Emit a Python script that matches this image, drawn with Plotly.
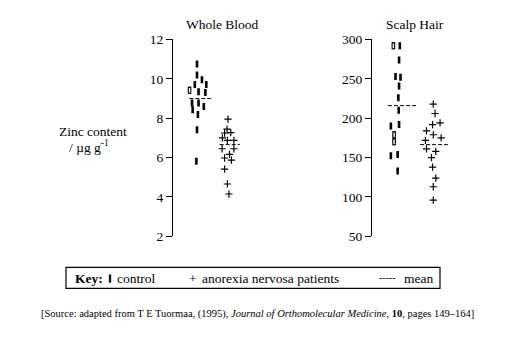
import plotly.graph_objects as go

W, H = 527, 338
FONT = "Liberation Serif"

# Zinc content, whole blood (ug/g)
blood_control = [10.75, 10.19, 9.95, 9.71, 9.71, 9.42, 9.34, 9.31, 8.78, 8.78, 8.59, 8.43, 8.19, 7.42, 5.81]
blood_control_dx = [0, 0, 0.16, -0.07, 0.30, -0.24, 0.05, 0.27, -0.16, 0.05, 0.22, -0.14, 0.03, 0, -0.02]
blood_control_open = [5]
blood_anorexia = [7.95, 7.45, 7.25, 7.27, 7.0, 6.88, 6.88, 6.45, 6.45, 6.16, 5.98, 5.87, 5.41, 4.66, 4.15]
blood_anorexia_dx = [0, -0.03, -0.11, 0.09, -0.18, -0.02, 0.19, -0.19, 0.19, 0.05, -0.11, 0.11, -0.11, -0.02, 0.03]
blood_means = [9.0, 6.66]

# Zinc content, scalp hair (ug/g)
hair_control = [292, 292, 274, 253, 252, 241, 226, 210, 190, 192, 179, 170, 152.5, 154, 133]
hair_control_dx = [-0.12, 0.06, 0.04, -0.06, 0.08, 0.04, 0.02, 0.03, -0.19, 0.04, -0.10, -0.10, -0.19, 0, 0]
hair_control_open = [0, 10, 11]
hair_anorexia = [218, 206, 192, 194, 184, 179, 175, 172, 161, 158, 150, 138, 124, 113, 96]
hair_anorexia_dx = [0, 0.05, -0.02, 0.19, -0.19, 0, 0.22, -0.22, -0.19, 0.07, -0.05, -0.02, 0.07, 0, 0]
hair_means = [216, 166.5]

blood_ticks = [2, 4, 6, 8, 10, 12]
hair_ticks = [50, 100, 150, 200, 250, 300]

fig = go.Figure()


def add_panel(xa, ya, control, cdx, copen, anorexia, adx, means, mean_spans):
    cx = [1 + d for d in cdx]
    ax = [2 + d for d in adx]
    fig.add_trace(go.Scatter(
        x=cx, y=control, mode="markers", xaxis=xa, yaxis=ya, showlegend=False,
        marker=dict(symbol="line-ns", size=5, line=dict(width=2.6, color="black")),
    ))
    ox = [cx[i] for i in copen]
    oy = [control[i] for i in copen]
    fig.add_trace(go.Scatter(
        x=ox, y=oy, mode="markers", xaxis=xa, yaxis=ya, showlegend=False,
        marker=dict(symbol="line-ns", size=5, line=dict(width=3.6, color="black")),
    ))
    fig.add_trace(go.Scatter(
        x=ox, y=oy, mode="markers", xaxis=xa, yaxis=ya, showlegend=False,
        marker=dict(symbol="line-ns", size=3.4, line=dict(width=1.4, color="white")),
    ))
    fig.add_trace(go.Scatter(
        x=ax, y=anorexia, mode="markers", xaxis=xa, yaxis=ya, showlegend=False,
        marker=dict(symbol="cross-thin", size=5.2, line=dict(width=1.2, color="black")),
    ))
    for centre, m, (lo, hi) in zip([1, 2], means, mean_spans):
        fig.add_trace(go.Scatter(
            x=[centre + lo, centre + hi], y=[m, m], mode="lines", xaxis=xa, yaxis=ya,
            showlegend=False, line=dict(color="black", width=1, dash="4px,2px"),
        ))


add_panel("x", "y", blood_control, blood_control_dx, blood_control_open,
          blood_anorexia, blood_anorexia_dx, blood_means,
          [(-0.25, 0.45), (-0.27, 0.38)])
add_panel("x2", "y2", hair_control, hair_control_dx, hair_control_open,
          hair_anorexia, hair_anorexia_dx, hair_means,
          [(-0.27, 0.54), (-0.37, 0.41)])

axis_font = dict(family=FONT, size=13.5, color="black")
y_top, y_bot = 34, 240
ydom = [1 - y_bot / H, 1 - y_top / H]

common_y = dict(showgrid=False, zeroline=False, showline=True, linecolor="black", linewidth=1,
                ticks="outside", ticklen=6, tickcolor="black", tickwidth=1,
                tickfont=axis_font, domain=ydom)
common_x = dict(visible=False, showgrid=False, zeroline=False)

fig.update_layout(
    width=W, height=H,
    margin=dict(l=0, r=0, t=0, b=0),
    paper_bgcolor="white", plot_bgcolor="white",
    showlegend=False,
    xaxis=dict(domain=[173 / W, 262 / W], range=[0.226, 3.097], **common_x),
    yaxis=dict(range=[2, 12], tickvals=blood_ticks, anchor="x", **common_y),
    xaxis2=dict(domain=[372 / W, 460 / W], range=[0.28, 2.75], **common_x),
    yaxis2=dict(range=[50, 300], tickvals=hair_ticks, anchor="x2", **common_y),
)


def px(x):
    return x / W


def py(y):
    return 1 - y / H


def note(text, x, y, size=13.5, xanchor="center", **kw):
    fig.add_annotation(text=text, x=px(x), y=py(y), xref="paper", yref="paper",
                       showarrow=False, xanchor=xanchor, yanchor="middle",
                       font=dict(family=FONT, size=size, color="black"), **kw)


# panel titles
note("Whole Blood", 222, 18)
note("Scalp Hair", 415, 18)

# y-axis label
note("Zinc content", 93, 130)
note("/ \u00b5g g<sup>-1</sup>", 89, 146)

# key box
fig.add_shape(type="rect", xref="paper", yref="paper",
              x0=px(66), x1=px(440), y0=py(272.5), y1=py(294.5),
              line=dict(color="black", width=1.2), fillcolor="rgba(0,0,0,0)")
note("<b>Key:</b>", 73, 284, xanchor="left")
note("\u258d", 106, 284, size=7, xanchor="left")
note("control", 115, 284, xanchor="left")
note("+", 187, 284, xanchor="left")
note("anorexia nervosa patients", 200, 284, xanchor="left")
note("-----", 377, 283, size=10, xanchor="left")
note("mean", 402, 284, xanchor="left")

# source line
note("[Source: adapted from T E Tuormaa, (1995), <i>Journal of Orthomolecular Medicine</i>, "
     "<b>10</b>, pages 149\u2013164]", 257, 321, size=10.5)

fig.write_html("out.html")
